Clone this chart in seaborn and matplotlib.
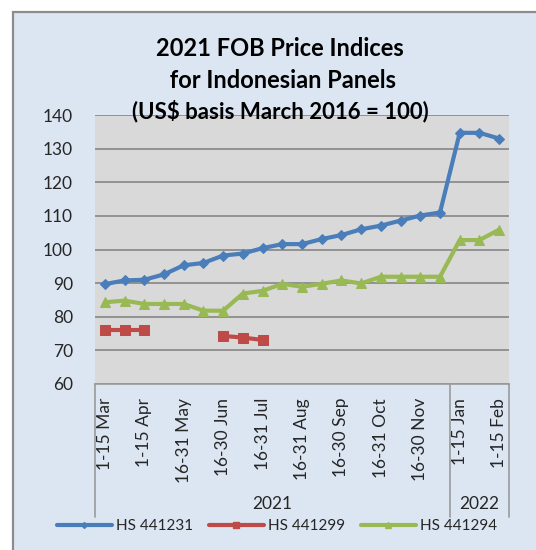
import numpy as np
import pandas as pd
import matplotlib
matplotlib.use("Agg")
import matplotlib.pyplot as plt
import seaborn as sns
from matplotlib.patches import Rectangle
from matplotlib.lines import Line2D

# half-month periods, 2021 then 2022
categories_2021 = ["1-15 Mar", "16-31 Mar", "1-15 Apr", "16-30 Apr", "16-31 May",
                   "1-15 Jun", "16-30 Jun", "1-15 Jul", "16-31 Jul", "1-15 Aug",
                   "16-31 Aug", "1-15 Sep", "16-30 Sep", "1-15 Oct", "16-31 Oct",
                   "1-15 Nov", "16-30 Nov", "1-15 Dec"]
categories_2022 = ["1-15 Jan", "16-31 Jan", "1-15 Feb"]
year_labels = ["2021", "2022"]
title_lines = ["2021 FOB Price Indices", " for Indonesian Panels",
               "(US$ basis March 2016 = 100)"]

series_names = ["HS 441231", "HS 441299", "HS 441294"]
hs_441231 = [89.7, 90.8, 91.0, 92.6, 95.3, 96.0, 98.2, 98.8, 100.4, 101.6, 101.6,
             103.1, 104.3, 106.0, 107.1, 108.6, 110.1, 111.0, 134.7, 134.7, 133.0]
hs_441299 = [76.0, 76.0, 76.0, np.nan, np.nan, np.nan, 74.3, 73.8, 73.1, np.nan,
             np.nan, np.nan, np.nan, np.nan, np.nan, np.nan, np.nan, np.nan,
             np.nan, np.nan, np.nan]
hs_441294 = [84.3, 84.8, 83.8, 83.8, 83.8, 81.8, 81.8, 86.9, 87.7, 89.8, 88.9,
             89.8, 90.8, 89.9, 91.9, 91.9, 91.9, 91.9, 102.8, 102.8, 105.9]

colors = ["#4A7EBB", "#BE4B48", "#98B954"]
markers = ["D", "s", "^"]
marker_sizes = [5, 6.5, 6.5]

categories = categories_2021 + categories_2022
values = [hs_441231, hs_441299, hs_441294]

frames = []
for name, vals in zip(series_names, values):
    d = pd.DataFrame({"pos": np.arange(len(categories)), "value": vals})
    d["series"] = name
    # separate run ids so gaps in the data break the line
    d["run"] = d["value"].isna().cumsum()
    frames.append(d.dropna())
data = pd.concat(frames, ignore_index=True)

sns.set_theme(style="white")
plt.rcParams["font.family"] = ["Lato", "DejaVu Sans"]

W, H = 536, 550
fig = plt.figure(figsize=(W / 100, H / 100), dpi=100)
fig.patch.set_facecolor("white")

# chart area box (light blue, grey border on top/left)
fig.patches.append(Rectangle((13 / W, -0.05), 1.2, 1 - 12 / H + 0.05,
                             transform=fig.transFigure, facecolor="#DCE6F2",
                             edgecolor="#8C8C8C", linewidth=1.6, zorder=-5))

left, right, top, bottom = 95, 509, 115, 384
ax = fig.add_axes([left / W, 1 - bottom / H, (right - left) / W, (bottom - top) / H])
ax.set_facecolor("#D9D9D9")

for name, color, mk, ms in zip(series_names, colors, markers, marker_sizes):
    sns.lineplot(data=data[data["series"] == name], x="pos", y="value",
                 units="run", estimator=None, color=color, linewidth=3.0,
                 marker=mk, markersize=ms, markeredgecolor=color, ax=ax)

n = len(categories)
ax.set_xlim(-0.5, n - 0.5)
ax.set_ylim(60, 140)
ax.set_yticks(range(60, 141, 10))
ax.yaxis.grid(True, color="#868686", linewidth=1.2)
ax.set_axisbelow(True)
ax.set_xticks(range(0, n, 2))
ax.set_xticklabels(categories[::2], rotation=90, va="top", ha="center")
ax.tick_params(axis="both", length=0, labelsize=12.5, colors="#262626")
ax.tick_params(axis="x", pad=10)
ax.tick_params(axis="y", pad=16)
ax.set_xlabel("")
ax.set_ylabel("")
for side in ["top", "right", "left"]:
    ax.spines[side].set_visible(False)
ax.spines["bottom"].set_color("#9A9A9A")
ax.spines["bottom"].set_linewidth(1.2)

# multi-level category axis: group separators and year labels
groups = [categories_2021, categories_2022]
start = 0
bounds = [-0.5]
for lab, grp in zip(year_labels, groups):
    mid = start + (len(grp) - 1) / 2
    ax.text(mid, -0.445, lab, transform=ax.get_xaxis_transform(), ha="center",
            va="center", fontsize=12.5, color="#262626")
    start += len(grp)
    bounds.append(start - 0.5)
for b in bounds:
    ax.plot([b, b], [0, -0.495], transform=ax.get_xaxis_transform(),
            color="#9A9A9A", linewidth=1.2, clip_on=False)

for line, ypix, fs in zip(title_lines, [48, 80, 111], [17, 17, 16]):
    fig.text(280 / W, 1 - ypix / H, line, ha="center", va="center",
             fontsize=fs, fontweight="bold", color="black")

handles = [Line2D([], [], color=c, linewidth=3.0, marker=m, markersize=s * 0.6)
           for c, m, s in zip(colors, markers, marker_sizes)]
fig.legend(handles, series_names, loc="center", bbox_to_anchor=(277 / W, 1 - 526 / H),
           ncol=3, frameon=False, fontsize=11, handlelength=3.6,
           handletextpad=0.3, columnspacing=1.0, borderpad=0, borderaxespad=0)

fig.savefig("out.png", dpi=100)
